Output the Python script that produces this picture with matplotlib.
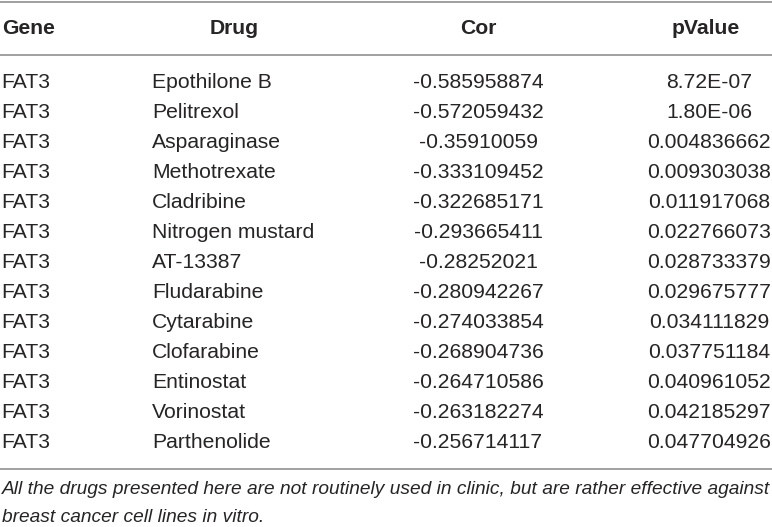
import matplotlib
matplotlib.use("Agg")
import matplotlib.pyplot as plt

columns = ["Gene", "Drug", "Cor", "pValue"]
genes = ["FAT3"] * 13
drugs = ["Epothilone B", "Pelitrexol", "Asparaginase", "Methotrexate", "Cladribine",
         "Nitrogen mustard", "AT-13387", "Fludarabine", "Cytarabine", "Clofarabine",
         "Entinostat", "Vorinostat", "Parthenolide"]
cors = ["-0.585958874", "-0.572059432", "-0.35910059", "-0.333109452", "-0.322685171",
        "-0.293665411", "-0.28252021", "-0.280942267", "-0.274033854", "-0.268904736",
        "-0.264710586", "-0.263182274", "-0.256714117"]
pvalues = ["8.72E-07", "1.80E-06", "0.004836662", "0.009303038", "0.011917068",
           "0.022766073", "0.028733379", "0.029675777", "0.034111829", "0.037751184",
           "0.040961052", "0.042185297", "0.047704926"]
footnote = ["All the drugs presented here are not routinely used in clinic, but are rather effective against",
            "breast cancer cell lines in vitro."]

W, H = 772, 527
fig = plt.figure(figsize=(W / 100, H / 100), dpi=100)
ax = fig.add_axes([0, 0, 1, 1])
ax.set_xlim(0, W)
ax.set_ylim(H, 0)
ax.axis("off")

FONT = "Liberation Sans"
FS = 15.2
TC = "#262425"
LC = "#a0a0a0"

for y in (1.5, 55, 469):
    ax.plot([0, W], [y, y], color=LC, lw=1.4, solid_capstyle="butt")

hy = 28
kw = dict(va="center", fontsize=FS, family=FONT, color=TC)
ax.text(2, hy, columns[0], ha="left", fontweight="bold", **kw)
ax.text(234, hy, columns[1], ha="center", fontweight="bold", **kw)
ax.text(478, hy, columns[2], ha="center", fontweight="bold", **kw)
ax.text(706, hy, columns[3], ha="center", fontweight="bold", **kw)

y0, dy = 83, 30
for i in range(len(genes)):
    y = y0 + i * dy
    ax.text(1, y, genes[i], ha="left", **kw)
    ax.text(152, y, drugs[i], ha="left", **kw)
    ax.text(478, y, cors[i], ha="center", **kw)
    ax.text(709, y, pvalues[i], ha="center", **kw)

fkw = dict(ha="left", va="center", fontsize=13.8, style="italic", family=FONT, color=TC)
ax.text(2, 490, footnote[0], **fkw)
ax.text(2, 517, footnote[1], **fkw)

fig.savefig("out.png", dpi=100)
